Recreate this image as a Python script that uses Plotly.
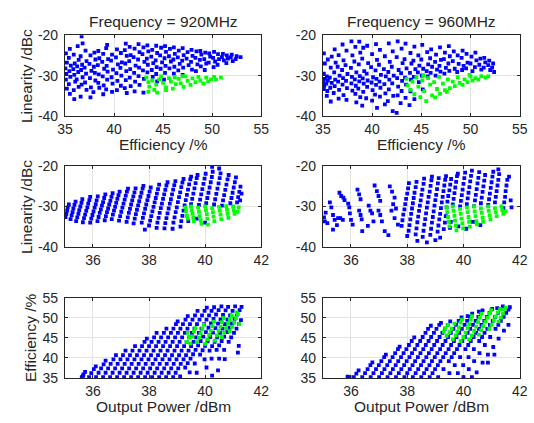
import plotly.graph_objects as go

W, H = 534, 423

# ---------------------------------------------------------------------------
# Measured points: (x, y) pairs per panel
# ---------------------------------------------------------------------------

# Linearity (dBc) versus efficiency (%), 920 MHz
lin_eff_920_blue = [
    (35.1,-24.5),(35.2,-26.8),(35.05,-28.2),(35.15,-29.6),(35.1,-31.0),(35.2,-33.2),
    (35.5,-23.4),(35.4,-25.6),(35.6,-27.5),(35.45,-28.9),(35.55,-30.3),(35.4,-32.1),(35.5,-34.5),
    (35.9,-24.8),(36.0,-27.0),(35.85,-28.4),(35.95,-29.8),(36.05,-31.5),(35.9,-33.6),(35.95,-35.8),
    (36.3,-22.7),(36.4,-26.1),(36.25,-27.7),(36.35,-29.1),(36.2,-30.9),(36.4,-32.8),
    (36.7,-20.3),(36.8,-22.0),(36.6,-25.2),(36.75,-27.3),(36.65,-28.6),(36.8,-30.4),(36.7,-32.2),(36.6,-35.2),
    (37.1,-23.8),(37.2,-26.4),(37.0,-28.0),(37.15,-29.5),(37.05,-31.7),(37.2,-33.5),
    (37.6,-25.0),(37.5,-27.1),(37.7,-28.8),(37.55,-30.6),(37.65,-32.9),(37.6,-35.4),
    (38.0,-24.3),(38.1,-26.0),(37.95,-27.8),(38.05,-29.3),(38.1,-31.2),(37.9,-34.1),
    (38.4,-23.9),(38.5,-25.7),(38.35,-27.4),(38.45,-29.7),(38.4,-31.8),(38.5,-33.0),
    (38.9,-24.6),(38.8,-26.6),(39.0,-28.3),(38.85,-30.2),(38.95,-32.4),(38.9,-34.6),
    (39.3,-22.4),(39.2,-23.2),(39.4,-25.9),(39.25,-27.6),(39.35,-29.0),(39.3,-31.0),(39.2,-33.4),
    (39.8,-24.8),(39.7,-26.3),(39.9,-28.5),(39.75,-30.4),(39.85,-32.0),(39.8,-34.0),
    (40.3,-23.5),(40.2,-25.5),(40.4,-27.2),(40.25,-29.4),(40.35,-31.3),(40.3,-33.6),
    (40.7,-24.4),(40.8,-26.7),(40.65,-28.1),(40.75,-30.0),(40.7,-32.5),
    (41.2,-22.1),(41.1,-23.7),(41.3,-25.1),(41.15,-27.0),(41.25,-28.9),(41.2,-31.1),(41.1,-33.1),(41.3,-34.3),
    (41.6,-22.9),(41.7,-24.9),(41.55,-26.4),(41.65,-28.4),(41.6,-30.5),(41.7,-32.6),
    (42.1,-23.3),(42.0,-25.4),(42.2,-27.5),(42.05,-29.3),(42.15,-31.5),(42.1,-33.9),
    (42.5,-22.2),(42.6,-24.2),(42.45,-26.0),(42.55,-28.0),(42.5,-30.1),(42.6,-32.3),
    (43.0,-23.0),(42.9,-24.7),(43.1,-26.6),(42.95,-28.7),(43.05,-30.8),(43.0,-34.2),
    (43.4,-22.5),(43.5,-24.0),(43.35,-25.8),(43.45,-27.3),(43.4,-29.2),
    (43.9,-23.6),(43.8,-25.3),(44.0,-26.9),(43.85,-28.6),(43.95,-30.3),
    (44.3,-22.6),(44.4,-24.4),(44.25,-26.2),(44.35,-27.9),(44.3,-29.6),(44.4,-31.4),
    (44.8,-23.1),(44.7,-25.0),(44.9,-26.7),(44.75,-28.3),
    (45.2,-22.7),(45.3,-24.1),(45.15,-25.7),(45.25,-27.6),(45.2,-29.3),(45.1,-31.0),
    (45.7,-23.4),(45.6,-25.2),(45.8,-26.5),(45.65,-28.2),
    (46.1,-23.0),(46.2,-24.6),(46.05,-26.0),(46.15,-27.8),(46.1,-29.5),
    (46.6,-23.8),(46.5,-25.5),(46.7,-27.1),(46.55,-28.7),
    (47.0,-23.2),(47.1,-24.9),(46.95,-26.3),(47.05,-28.0),(47.0,-29.8),
    (47.5,-24.2),(47.4,-25.8),(47.6,-27.4),
    (47.9,-23.6),(48.0,-25.1),(47.85,-26.6),(47.95,-28.5),
    (48.4,-24.0),(48.3,-25.6),(48.5,-27.2),(48.35,-28.9),
    (48.8,-23.9),(48.9,-24.8),(48.75,-26.1),(48.85,-27.7),
    (49.3,-24.3),(49.2,-25.9),(49.4,-27.0),(49.25,-28.6),
    (49.7,-24.5),(49.8,-25.3),(49.65,-26.8),
    (50.2,-24.1),(50.1,-25.6),(50.3,-26.5),(50.15,-27.9),
    (50.6,-24.7),(50.7,-25.9),(50.55,-27.3),
    (51.1,-24.6),(51.0,-25.4),(51.2,-26.2),
    (51.5,-25.0),(51.6,-25.8),(51.45,-26.9),
    (52.0,-24.8),(51.9,-25.5),(52.1,-26.4),
    (52.5,-25.2),(52.4,-25.9),
    (52.9,-25.4),
]
lin_eff_920_green = [
    (43.3,-30.5),(43.5,-31.6),(43.6,-32.7),(43.5,-34.0),(43.9,-31.2),(44.1,-33.5),
    (44.3,-32.2),(44.6,-30.9),(44.4,-34.2),(45.0,-31.8),(45.3,-32.9),(45.6,-30.6),
    (45.8,-31.5),(46.0,-33.2),(46.3,-32.1),(46.6,-30.8),(46.8,-31.9),(47.1,-32.8),
    (47.3,-30.2),(47.5,-31.3),(47.8,-32.3),(48.0,-30.7),(48.3,-31.6),(48.6,-30.3),
    (48.8,-31.2),(49.1,-32.0),(49.4,-30.5),(49.6,-31.4),(49.9,-30.9),(50.2,-30.3),
    (50.4,-31.0),(50.9,-30.5),(47.0,-30.1),(45.3,-33.6),(44.8,-30.2),(46.2,-30.4),
]

# Linearity (dBc) versus efficiency (%), 960 MHz
lin_eff_960_blue = [
    (35.1,-29.5),(35.2,-30.8),(35.05,-31.6),(35.15,-32.4),(35.1,-33.3),(35.2,-27.0),(35.1,-24.5),
    (35.4,-30.2),(35.5,-31.2),(35.35,-32.0),(35.45,-33.8),(35.4,-35.0),(35.5,-26.0),
    (35.8,-28.0),(35.7,-30.5),(35.9,-31.8),(35.75,-33.0),(35.8,-36.4),(35.9,-25.3),
    (36.2,-23.5),(36.3,-26.8),(36.15,-29.2),(36.25,-31.0),(36.2,-32.6),(36.1,-34.3),
    (36.6,-24.9),(36.5,-27.8),(36.7,-30.0),(36.55,-31.5),(36.65,-33.5),(36.6,-35.7),
    (37.0,-22.3),(37.1,-26.2),(36.95,-28.6),(37.05,-30.6),(37.0,-32.2),(37.1,-34.8),
    (37.4,-23.8),(37.3,-27.4),(37.5,-29.6),(37.35,-31.3),(37.45,-33.1),(37.4,-36.0),
    (37.9,-21.5),(38.0,-25.0),(37.85,-28.1),(37.95,-30.3),(37.9,-31.9),(38.0,-33.7),
    (38.3,-22.9),(38.2,-26.5),(38.4,-29.2),(38.25,-30.9),(38.35,-32.5),(38.3,-34.5),(38.4,-36.6),
    (38.7,-21.6),(38.8,-24.3),(38.65,-27.2),(38.75,-30.1),(38.7,-31.4),(38.6,-33.2),(38.8,-35.3),
    (39.1,-23.1),(39.0,-25.8),(39.2,-28.9),(39.05,-30.7),(39.15,-32.0),(39.1,-34.0),(39.0,-37.4),
    (39.5,-22.6),(39.6,-26.9),(39.45,-29.5),(39.55,-31.2),(39.5,-32.8),(39.4,-35.6),
    (40.0,-24.7),(39.9,-27.9),(40.1,-30.4),(39.95,-31.7),(40.05,-33.6),(40.0,-36.2),
    (40.4,-22.2),(40.5,-26.1),(40.35,-28.7),(40.45,-30.8),(40.4,-32.3),(40.3,-34.7),(40.5,-38.0),
    (40.8,-23.6),(40.7,-27.3),(40.9,-29.8),(40.75,-31.5),(40.85,-33.0),(40.8,-35.2),
    (41.3,-25.2),(41.2,-28.4),(41.4,-30.2),(41.25,-32.1),(41.35,-34.4),(41.3,-37.1),
    (41.7,-22.0),(41.8,-26.6),(41.65,-29.1),(41.75,-31.0),(41.7,-33.4),(41.6,-36.3),
    (42.1,-24.0),(42.0,-27.8),(42.2,-30.0),(42.05,-31.9),(42.15,-35.0),(42.1,-38.8),
    (42.6,-21.5),(42.5,-25.4),(42.7,-28.6),(42.55,-30.6),(42.65,-32.7),(42.6,-34.9),(42.5,-39.2),
    (43.0,-23.3),(43.1,-26.9),(42.95,-29.4),(43.05,-31.3),(43.0,-33.8),(42.9,-36.8),
    (43.4,-22.1),(43.3,-25.9),(43.5,-28.2),(43.35,-30.5),(43.45,-32.2),(43.4,-35.5),
    (43.9,-24.4),(44.0,-27.0),(43.85,-29.3),(43.95,-31.0),(43.9,-33.9),(43.8,-37.3),
    (44.3,-22.8),(44.2,-26.3),(44.4,-28.4),(44.25,-30.3),(44.3,-35.8),
    (44.7,-25.0),(44.8,-27.5),(44.65,-29.2),(44.75,-31.6),
    (45.1,-22.4),(45.0,-26.0),(45.2,-28.3),(45.05,-30.0),(45.15,-33.4),
    (45.6,-24.2),(45.7,-27.2),(45.55,-28.9),(45.65,-30.2),
    (46.0,-23.5),(45.9,-25.7),(46.1,-27.8),(45.95,-29.3),
    (46.5,-24.8),(46.4,-26.6),(46.6,-28.5),(46.45,-30.0),
    (46.9,-23.0),(47.0,-26.1),(46.85,-27.6),(46.95,-29.0),
    (47.4,-24.3),(47.3,-25.9),(47.5,-28.1),(47.35,-29.5),
    (47.8,-22.7),(47.9,-25.2),(47.75,-27.0),(47.85,-28.8),
    (48.3,-24.0),(48.2,-26.4),(48.4,-28.3),
    (48.7,-25.0),(48.8,-27.1),(48.65,-29.1),
    (49.2,-23.8),(49.1,-25.6),(49.3,-27.6),(49.15,-28.6),
    (49.6,-24.6),(49.7,-26.8),(49.55,-28.2),
    (50.1,-25.3),(50.0,-27.0),(50.2,-28.9),
    (50.5,-24.3),(50.6,-26.2),(50.45,-27.9),
    (51.0,-25.8),(50.9,-27.3),(51.1,-28.5),
    (51.4,-25.6),(51.5,-26.7),(51.35,-28.0),
    (51.9,-26.3),(51.8,-27.4),(52.0,-28.6),
    (52.3,-27.0),(52.2,-28.0),(52.4,-29.1),
]
lin_eff_960_green = [
    (43.5,-30.8),(43.6,-32.4),(43.9,-33.5),(44.1,-31.5),(44.3,-34.6),(44.5,-30.4),
    (44.7,-32.7),(44.9,-35.3),(45.1,-31.2),(45.3,-33.8),(45.5,-36.3),(45.7,-30.6),
    (45.9,-32.2),(46.1,-34.9),(46.3,-31.6),(46.6,-33.3),(46.8,-30.3),(46.9,-34.5),
    (47.2,-32.0),(47.4,-33.6),(47.7,-30.9),(47.9,-33.1),(48.2,-31.5),(48.4,-32.6),
    (48.7,-30.4),(48.9,-31.8),(49.2,-32.3),(49.4,-30.9),(49.7,-31.6),(50.0,-30.2),
    (50.2,-31.2),(50.5,-30.6),(50.8,-31.0),(51.1,-30.1),(51.5,-30.5),(51.8,-30.2),
    (46.4,-35.4),(47.6,-34.0),(45.2,-29.9),(49.9,-29.8),
]

# Linearity (dBc) versus output power (dBm), 920 MHz
lin_pout_920_blue = [
    (35.02,-32.6),(35.05,-31.8),(35.08,-31.0),(35.1,-30.2),(35.14,-29.5),
    (35.2,-33.1),(35.24,-32.2),(35.27,-31.4),(35.3,-30.5),(35.34,-29.6),(35.38,-28.8),
    (35.4,-33.6),(35.44,-32.7),(35.48,-31.8),(35.51,-30.9),(35.55,-30.0),(35.59,-29.1),(35.62,-28.2),
    (35.64,-33.9),(35.68,-32.9),(35.72,-32.0),(35.76,-31.1),(35.8,-30.2),(35.83,-29.3),(35.87,-28.4),(35.9,-27.6),
    (35.9,-34.0),(35.94,-33.0),(35.98,-32.1),(36.02,-31.2),(36.06,-30.3),(36.1,-29.4),(36.13,-28.5),(36.17,-27.5),
    (36.16,-33.6),(36.2,-32.6),(36.24,-31.6),(36.28,-30.7),(36.32,-29.8),(36.36,-28.9),(36.4,-27.9),(36.44,-27.0),
    (36.42,-33.4),(36.46,-32.4),(36.5,-31.4),(36.54,-30.5),(36.58,-29.5),(36.62,-28.6),(36.66,-27.6),(36.7,-26.7),
    (36.67,-33.1),(36.71,-32.0),(36.75,-31.0),(36.79,-30.1),(36.83,-29.1),(36.87,-28.1),(36.91,-27.2),(36.95,-26.3),
    (36.93,-33.5),(36.97,-32.4),(37.01,-31.3),(37.05,-30.3),(37.09,-29.3),(37.13,-28.3),(37.17,-27.3),(37.21,-26.3),(37.25,-25.6),
    (37.2,-33.8),(37.24,-32.7),(37.28,-31.6),(37.32,-30.6),(37.36,-29.5),(37.4,-28.5),(37.44,-27.5),(37.48,-26.5),(37.52,-25.5),
    (37.45,-34.2),(37.49,-33.0),(37.53,-31.9),(37.57,-30.8),(37.61,-29.7),(37.65,-28.7),(37.69,-27.6),(37.73,-26.6),(37.77,-25.6),(37.8,-24.9),
    (37.85,-35.7),(37.74,-34.0),(37.78,-32.8),(37.82,-31.7),(37.86,-30.6),(37.9,-29.5),(37.94,-28.4),(37.98,-27.4),(38.02,-26.3),(38.06,-25.3),
    (38.0,-34.7),(38.04,-33.5),(38.08,-32.4),(38.12,-31.2),(38.16,-30.1),(38.2,-29.0),(38.24,-27.9),(38.28,-26.8),(38.32,-25.7),(38.36,-24.6),
    (38.27,-35.3),(38.3,-34.0),(38.34,-32.8),(38.38,-31.6),(38.42,-30.4),(38.46,-29.3),(38.5,-28.1),(38.54,-27.0),(38.58,-25.9),(38.62,-24.8),(38.66,-24.0),
    (38.55,-35.4),(38.58,-34.1),(38.62,-32.9),(38.66,-31.7),(38.7,-30.5),(38.74,-29.3),(38.78,-28.2),(38.82,-27.0),(38.86,-25.8),(38.9,-24.7),(38.94,-23.7),
    (38.84,-35.5),(38.87,-34.0),(38.91,-32.7),(38.95,-31.4),(38.99,-30.2),(39.03,-28.9),(39.07,-27.7),(39.11,-26.5),(39.15,-25.2),(39.19,-24.1),(39.23,-23.2),
    (39.12,-35.0),(39.15,-33.6),(39.19,-32.3),(39.23,-31.0),(39.27,-29.7),(39.31,-28.4),(39.35,-27.1),(39.39,-25.8),(39.43,-24.5),(39.47,-23.3),(39.5,-22.6),
    (39.5,-29.4),(39.54,-28.1),(39.58,-26.8),(39.62,-25.5),(39.66,-24.2),(39.7,-23.0),(39.73,-22.2),(39.4,-33.6),
    (39.78,-29.6),(39.82,-28.3),(39.86,-27.0),(39.9,-25.7),(39.94,-24.4),(39.98,-23.1),(40.02,-21.9),(39.7,-33.0),
    (40.04,-29.2),(40.08,-27.9),(40.12,-26.6),(40.16,-25.3),(40.2,-24.0),(40.24,-22.7),(40.27,-21.4),(40.25,-20.2),(40.0,-34.0),
    (40.32,-29.5),(40.36,-28.2),(40.4,-26.9),(40.44,-25.6),(40.48,-24.3),(40.52,-23.0),(40.55,-21.8),(40.5,-20.6),
    (40.6,-29.8),(40.64,-28.5),(40.68,-27.2),(40.72,-25.9),(40.76,-24.6),(40.8,-23.3),(40.84,-22.2),
    (40.9,-29.2),(40.94,-27.9),(40.98,-26.6),(41.02,-25.3),(41.06,-24.0),(41.1,-22.8),
    (41.14,-29.0),(41.18,-27.7),(41.22,-26.4),(41.26,-25.1),(41.3,-26.8),(41.25,-28.5),
]
lin_pout_920_green = [
    (39.3,-30.2),(39.32,-31.2),(39.35,-32.3),(39.38,-33.0),
    (39.5,-30.0),(39.52,-30.9),(39.55,-31.8),(39.58,-32.8),(39.6,-33.6),
    (39.75,-30.3),(39.78,-31.3),(39.8,-32.4),(39.84,-33.4),(39.87,-34.3),
    (40.0,-30.0),(40.03,-30.9),(40.06,-31.9),(40.08,-33.0),(40.1,-34.5),
    (40.25,-30.4),(40.28,-31.4),(40.3,-32.5),(40.33,-33.6),
    (40.5,-30.1),(40.52,-31.0),(40.55,-32.0),(40.58,-33.1),
    (40.75,-29.9),(40.78,-30.8),(40.8,-31.8),(40.83,-32.8),
    (41.0,-30.0),(41.02,-30.9),(41.05,-31.8),
    (41.2,-30.2),(41.15,-31.3),
]

# Linearity (dBc) versus output power (dBm), 960 MHz
lin_pout_960_blue = [
    (35.04,-32.7),(35.07,-33.7),(35.16,-34.1),(35.3,-30.2),(35.36,-32.1),(35.42,-33.3),
    (35.54,-32.9),(35.62,-32.9),(35.71,-33.3),(35.59,-26.6),(35.65,-27.4),(35.73,-27.8),
    (35.77,-28.4),(35.36,-35.7),(35.1,-31.5),(35.25,-29.0),(35.5,-34.6),
    (35.94,-30.2),(35.96,-31.7),(36.0,-33.3),(36.06,-34.5),(35.9,-29.3),
    (36.23,-25.8),(36.29,-27.0),(36.34,-28.2),(36.29,-31.0),(36.34,-32.1),(36.38,-33.2),(36.4,-36.1),
    (36.63,-29.8),(36.69,-31.0),(36.75,-31.7),(36.8,-33.7),(36.6,-34.8),
    (36.84,-24.8),(36.92,-26.2),(36.98,-27.4),(37.04,-28.6),(36.98,-31.0),(37.04,-32.1),(37.1,-33.7),(37.2,-36.1),
    (37.38,-25.0),(37.46,-26.3),(37.55,-27.8),(37.5,-29.4),(37.44,-31.0),(37.55,-32.9),(37.67,-34.5),(37.33,-37.1),(37.6,-30.5),
    (37.8,-34.8),(37.83,-33.4),(37.86,-32.0),(37.9,-30.7),(37.93,-29.4),(37.96,-28.1),(38.0,-26.8),(38.03,-25.5),(38.06,-24.2),(38.0,-37.3),
    (38.05,-36.0),(38.08,-34.6),(38.11,-33.2),(38.14,-31.8),(38.17,-30.5),(38.2,-29.2),(38.23,-27.9),(38.26,-26.6),(38.3,-25.2),(38.33,-23.9),
    (38.36,-38.5),(38.3,-36.9),(38.33,-35.4),(38.36,-33.9),(38.39,-32.5),(38.42,-31.1),(38.45,-29.8),(38.48,-28.5),(38.51,-27.1),(38.54,-25.8),(38.58,-24.4),(38.6,-23.1),
    (38.7,-38.9),(38.55,-37.5),(38.58,-36.0),(38.61,-34.5),(38.64,-33.1),(38.67,-31.7),(38.7,-30.3),(38.73,-29.0),(38.76,-27.6),(38.8,-26.3),(38.83,-24.9),(38.86,-23.5),(38.88,-22.6),
    (38.82,-37.0),(38.85,-35.5),(38.88,-34.0),(38.91,-32.6),(38.94,-31.2),(38.97,-29.8),(39.0,-28.4),(39.03,-27.1),(39.06,-25.7),(39.09,-24.3),(39.12,-23.0),(39.0,-38.3),
    (39.17,-37.7),(39.08,-36.2),(39.11,-34.7),(39.14,-33.2),(39.17,-31.8),(39.2,-30.4),(39.23,-29.0),(39.26,-27.6),(39.29,-26.2),(39.32,-24.8),(39.35,-23.4),(39.38,-22.5),
    (39.3,-35.6),(39.34,-34.0),(39.37,-32.4),(39.4,-30.2),(39.43,-28.8),(39.46,-27.4),(39.5,-26.0),(39.53,-24.6),(39.56,-23.2),(39.52,-35.3),
    (39.62,-29.5),(39.65,-28.1),(39.68,-26.7),(39.71,-25.3),(39.74,-23.9),(39.77,-22.5),(39.8,-21.9),(39.55,-33.8),
    (39.88,-30.0),(39.91,-28.6),(39.94,-27.2),(39.97,-25.8),(40.0,-24.4),(40.03,-23.0),(40.06,-21.6),(39.82,-34.9),
    (40.12,-29.4),(40.15,-28.0),(40.18,-26.6),(40.21,-25.2),(40.24,-23.8),(40.27,-22.4),(40.3,-21.1),(40.1,-35.5),
    (40.38,-29.9),(40.41,-28.5),(40.44,-27.1),(40.47,-25.7),(40.5,-24.3),(40.53,-22.9),(40.56,-21.5),(40.34,-33.8),
    (40.62,-29.2),(40.65,-27.8),(40.68,-26.4),(40.71,-25.0),(40.74,-23.6),(40.77,-22.2),(40.6,-34.6),
    (40.88,-29.6),(40.91,-28.2),(40.94,-26.8),(40.97,-25.4),(41.0,-24.0),(41.03,-22.6),(41.06,-21.4),
    (41.12,-29.0),(41.15,-27.6),(41.18,-26.2),(41.21,-24.8),(41.24,-23.4),(41.27,-22.0),(41.24,-20.8),
    (41.42,-30.4),(41.45,-29.0),(41.48,-27.6),(41.5,-26.2),(41.53,-24.8),(41.56,-23.4),(41.62,-22.6),(41.68,-28.5),(41.71,-30.2),
]
lin_pout_960_green = [
    (39.4,-30.3),(39.42,-31.4),(39.45,-32.6),(39.48,-33.8),(39.5,-34.9),
    (39.62,-30.0),(39.65,-31.1),(39.68,-32.3),(39.7,-33.5),(39.73,-34.7),(39.75,-35.9),
    (39.88,-30.6),(39.9,-31.8),(39.93,-33.0),(39.96,-34.2),(39.99,-35.4),
    (40.12,-30.2),(40.15,-31.4),(40.18,-32.6),(40.2,-33.8),(40.23,-35.0),
    (40.38,-30.0),(40.4,-31.2),(40.43,-32.4),(40.46,-33.6),(40.48,-34.4),
    (40.62,-30.5),(40.65,-31.6),(40.68,-32.8),(40.7,-33.8),
    (40.88,-30.0),(40.9,-31.1),(40.93,-32.2),(40.96,-33.2),
    (41.12,-30.4),(41.15,-31.4),(41.18,-32.4),
    (41.35,-30.0),(41.38,-30.9),(41.42,-31.8),(41.5,-31.2),
]

# Efficiency (%) versus output power (dBm), 920 MHz
eff_pout_920_blue = [
    (35.6,35.2),(35.66,35.9),(35.72,36.5),(35.65,35.5),
    (35.86,35.2),(35.94,36.2),(36.03,37.2),(36.1,37.9),
    (36.11,35.2),(36.2,36.3),(36.29,37.4),(36.38,38.4),(36.45,39.3),
    (36.36,35.2),(36.45,36.3),(36.54,37.4),(36.63,38.5),(36.73,39.6),(36.82,40.7),
    (36.61,35.2),(36.7,36.3),(36.79,37.4),(36.88,38.5),(36.98,39.6),(37.07,40.7),(37.16,41.8),
    (36.86,35.2),(36.95,36.3),(37.04,37.4),(37.13,38.5),(37.23,39.6),(37.32,40.7),(37.41,41.8),(37.5,42.9),
    (37.11,35.2),(37.2,36.3),(37.29,37.4),(37.38,38.5),(37.48,39.6),(37.57,40.7),(37.66,41.8),(37.75,42.9),(37.84,44.0),(37.92,44.8),
    (37.36,35.2),(37.45,36.3),(37.54,37.4),(37.63,38.5),(37.73,39.6),(37.82,40.7),(37.91,41.8),(38.0,42.9),(38.09,44.0),(38.18,45.1),(38.27,46.2),
    (37.61,35.2),(37.7,36.3),(37.79,37.4),(37.88,38.5),(37.98,39.6),(38.07,40.7),(38.16,41.8),(38.25,42.9),(38.34,44.0),(38.43,45.1),(38.53,46.2),(38.62,47.3),
    (37.86,35.2),(37.95,36.3),(38.04,37.4),(38.13,38.5),(38.23,39.6),(38.32,40.7),(38.41,41.8),(38.5,42.9),(38.59,44.0),(38.68,45.1),(38.78,46.2),(38.87,47.3),(38.96,48.4),(39.02,49.1),
    (38.11,35.2),(38.2,36.3),(38.29,37.4),(38.38,38.5),(38.48,39.6),(38.57,40.7),(38.66,41.8),(38.75,42.9),(38.84,44.0),(38.93,45.1),(39.03,46.2),(39.12,47.3),(39.21,48.4),(39.3,49.5),(39.38,50.4),
    (38.36,35.2),(38.45,36.3),(38.54,37.4),(38.63,38.5),(38.73,39.6),(38.82,40.7),(38.91,41.8),(39.0,42.9),(39.09,44.0),(39.18,45.1),(39.28,46.2),(39.37,47.3),(39.46,48.4),(39.55,49.5),(39.64,50.6),(39.73,51.7),
    (38.61,35.2),(38.7,36.3),(38.79,37.4),(38.88,38.5),(38.98,39.6),(39.07,40.7),(39.16,41.8),(39.25,42.9),(39.34,44.0),(39.43,45.1),(39.53,46.2),(39.62,47.3),(39.71,48.4),(39.8,49.5),(39.89,50.6),(39.98,51.7),(40.06,52.5),
    (38.86,35.2),(38.95,36.3),(39.04,37.4),(39.13,38.5),(39.23,39.6),(39.32,40.7),(39.41,41.8),(39.5,42.9),(39.59,44.0),(39.68,45.1),(39.78,46.2),(39.87,47.3),(39.96,48.4),(40.05,49.5),(40.14,50.6),(40.23,51.7),(40.32,52.6),
    (39.11,35.4),(39.29,37.6),(39.38,38.7),(39.48,39.8),(39.57,40.9),(39.66,42.0),(39.75,43.1),(39.84,44.2),(39.93,45.3),(40.03,46.4),(40.12,47.5),(40.21,48.6),(40.3,49.7),(40.39,50.8),(40.48,51.9),(40.58,52.8),
    (39.45,36.4),(39.63,38.6),(39.82,40.8),(39.91,41.9),(40.0,43.0),(40.09,44.1),(40.18,45.2),(40.28,46.3),(40.37,47.4),(40.46,48.5),(40.55,49.6),(40.64,50.7),(40.73,51.8),(40.82,52.7),
    (39.7,36.3),(39.98,39.6),(40.16,41.8),(40.25,42.9),(40.34,44.0),(40.43,45.1),(40.53,46.2),(40.62,47.3),(40.71,48.4),(40.8,49.5),(40.89,50.6),(40.98,51.7),(41.07,52.8),
    (40.05,37.6),(40.23,39.8),(40.41,42.0),(40.5,43.1),(40.59,44.2),(40.68,45.3),(40.78,46.4),(40.87,47.5),(40.96,48.6),(41.05,49.7),(41.14,50.8),(41.23,51.9),(41.3,52.7),
    (40.46,36.9),(40.5,39.8),(40.68,42.0),(40.84,44.0),(40.93,45.1),(41.03,46.2),(41.12,47.3),(41.21,48.4),(41.28,49.4),
    (41.17,41.3),(41.2,43.0),(40.7,39.7),(40.25,35.6),
]
eff_pout_920_green = [
    (39.34,44.0),(39.43,45.1),(39.38,46.2),(39.47,43.6),(39.55,45.3),(39.6,46.6),(39.65,47.4),
    (39.7,43.9),(39.78,45.0),(39.84,46.1),(39.9,47.2),(39.95,48.2),
    (40.0,43.5),(40.08,44.6),(40.14,45.7),(40.2,46.8),(40.26,47.9),(40.32,49.0),
    (40.35,44.3),(40.42,45.6),(40.48,46.7),(40.55,47.8),(40.6,48.9),(40.67,49.9),
    (40.6,45.2),(40.68,46.3),(40.75,47.4),(40.82,48.5),(40.88,49.6),(40.95,50.6),
    (40.88,46.6),(40.96,47.7),(41.04,48.8),(41.1,49.9),(41.17,50.9),(41.22,48.4),(41.12,51.3),
]

# Efficiency (%) versus output power (dBm), 960 MHz
eff_pout_960_blue = [
    (35.88,35.3),(35.95,35.2),
    (36.1,35.2),(36.19,36.1),(36.27,36.9),
    (36.4,35.2),(36.5,36.2),(36.59,37.2),(36.69,38.2),(36.76,38.9),
    (36.7,35.2),(36.8,36.2),(36.89,37.2),(36.99,38.2),(37.08,39.2),(37.18,40.2),(37.24,40.8),
    (37.0,35.2),(37.1,36.2),(37.19,37.2),(37.29,38.2),(37.38,39.2),(37.48,40.2),(37.57,41.2),(37.67,42.2),(37.73,42.8),
    (37.3,35.2),(37.4,36.2),(37.49,37.2),(37.59,38.2),(37.68,39.2),(37.78,40.2),(37.87,41.2),(37.97,42.2),(38.06,43.2),(38.16,44.2),(38.25,45.1),
    (37.6,35.2),(37.7,36.2),(37.79,37.2),(37.89,38.2),(37.98,39.2),(38.08,40.2),(38.17,41.2),(38.27,42.2),(38.36,43.2),(38.46,44.2),(38.55,45.2),(38.65,46.2),(38.74,47.2),(38.84,48.0),
    (37.9,35.2),(38.0,36.2),(38.09,37.2),(38.19,38.2),(38.28,39.2),(38.38,40.2),(38.47,41.2),(38.57,42.2),(38.66,43.2),(38.76,44.2),(38.85,45.2),(38.95,46.2),(39.04,47.2),(39.14,48.2),(39.2,48.7),
    (38.2,35.2),(38.3,36.2),(38.39,37.2),(38.49,38.2),(38.58,39.2),(38.68,40.2),(38.77,41.2),(38.87,42.2),(38.96,43.2),(39.06,44.2),(39.15,45.2),(39.25,46.2),(39.34,47.2),(39.44,48.2),(39.53,49.1),
    (38.5,35.2),(38.6,36.2),(38.69,37.2),(38.79,38.2),(38.88,39.2),(38.98,40.2),(39.07,41.2),(39.17,42.2),(39.26,43.2),(39.36,44.2),(39.45,45.2),(39.55,46.2),(39.64,47.2),(39.74,48.2),(39.83,49.2),(39.93,50.1),
    (38.8,35.2),(38.9,36.2),(38.99,37.2),(39.09,38.2),(39.18,39.2),(39.28,40.2),(39.37,41.2),(39.47,42.2),(39.56,43.2),(39.66,44.2),(39.75,45.2),(39.85,46.2),(39.94,47.2),(40.04,48.2),(40.13,49.2),(40.23,50.2),(40.31,51.0),
    (39.1,35.2),(39.29,37.2),(39.48,39.2),(39.58,40.2),(39.67,41.2),(39.77,42.2),(39.86,43.2),(39.96,44.2),(40.05,45.2),(40.15,46.2),(40.24,47.2),(40.34,48.2),(40.43,49.2),(40.53,50.2),(40.62,51.2),(40.68,51.8),
    (39.5,36.2),(39.69,38.2),(39.88,40.2),(40.07,42.2),(40.17,43.2),(40.26,44.2),(40.36,45.2),(40.45,46.2),(40.55,47.2),(40.64,48.2),(40.74,49.2),(40.83,50.2),(40.93,51.2),(41.02,52.2),
    (39.8,36.2),(39.99,38.2),(40.18,40.2),(40.37,42.2),(40.56,44.2),(40.66,45.2),(40.75,46.2),(40.85,47.2),(40.94,48.2),(41.04,49.2),(41.13,50.2),(41.23,51.2),(41.32,52.2),(41.4,52.8),
    (40.0,35.2),(40.19,37.2),(40.38,39.2),(40.57,41.2),(40.76,43.2),(40.95,45.2),(41.14,47.2),(41.24,48.2),(41.33,49.2),(41.43,50.2),(41.52,51.2),(41.6,52.0),
    (40.3,35.2),(40.47,36.4),(40.68,38.8),(40.87,40.8),(41.06,42.7),(41.25,44.8),(41.44,46.8),(41.6,48.2),
    (41.65,52.6),(41.2,52.4),(40.55,51.5),(40.15,50.4),(41.1,40.8),(40.87,38.8),
]
eff_pout_960_green = [
    (39.3,46.5),(39.35,47.4),(39.4,45.5),(39.45,48.2),(39.5,46.4),(39.58,47.3),(39.62,44.6),
    (39.68,48.5),(39.72,45.6),(39.78,46.6),(39.84,47.6),(39.9,48.8),(39.95,49.5),
    (39.9,44.2),(40.0,45.2),(40.08,46.3),(40.15,47.4),(40.2,48.4),(40.26,49.5),(40.3,50.4),
    (40.2,44.6),(40.3,45.6),(40.38,46.7),(40.45,47.8),(40.52,48.9),(40.58,50.0),(40.64,51.0),
    (40.55,45.8),(40.63,46.9),(40.7,47.9),(40.78,49.0),(40.85,50.0),(40.92,51.1),(40.98,51.9),
    (40.92,47.2),(41.0,48.2),(41.08,49.3),(41.15,50.3),(41.22,51.3),(41.3,52.1),
    (41.25,49.0),(41.33,50.0),(41.4,51.0),(41.45,52.0),(41.5,52.5),
]

frequencies = ["920MHz", "960MHz"]
eff_ticks = [35, 40, 45, 50, 55]
lin_ticks = [-40, -30, -20]
pout_ticks = [36, 38, 40, 42]

# ---------------------------------------------------------------------------
# Layout geometry (pixels)
# ---------------------------------------------------------------------------
col_px = [(58.7, 261.0), (324.6, 527.5)]
row_px = [(28.3, 112.3), (164.3, 248.3), (301.0, 384.5)]

FONT = "Liberation Sans, Arial, Helvetica, sans-serif"
TXT = "#262626"
BLUE = "#0000ff"
GREEN = "#00ff00"


def xfrac(px):
    return px / W


def yfrac(py):
    return 1 - py / H


panels = [
    # (row, col, blue, green, x range, x ticks, y range, y ticks)
    (0, 0, lin_eff_920_blue, lin_eff_920_green, [35, 55], eff_ticks, [-40, -20], lin_ticks),
    (0, 1, lin_eff_960_blue, lin_eff_960_green, [35, 55], eff_ticks, [-40, -20], lin_ticks),
    (1, 0, lin_pout_920_blue, lin_pout_920_green, [35, 42], pout_ticks, [-40, -20], lin_ticks),
    (1, 1, lin_pout_960_blue, lin_pout_960_green, [35, 42], pout_ticks, [-40, -20], lin_ticks),
    (2, 0, eff_pout_920_blue, eff_pout_920_green, [35, 42], pout_ticks, [35, 55], eff_ticks),
    (2, 1, eff_pout_960_blue, eff_pout_960_green, [35, 42], pout_ticks, [35, 55], eff_ticks),
]

fig = go.Figure()
layout_axes = {}

for i, (r, c, blue, green, xr, xt, yr, yt) in enumerate(panels):
    n = i + 1
    xa = "x" if n == 1 else f"x{n}"
    ya = "y" if n == 1 else f"y{n}"
    for pts, colour in ((blue, BLUE), (green, GREEN)):
        fig.add_trace(go.Scatter(
            x=[p[0] for p in pts], y=[p[1] for p in pts],
            mode="markers", xaxis=xa, yaxis=ya,
            marker=dict(symbol="square", size=3.8, color=colour, line=dict(width=0)),
            hoverinfo="skip", showlegend=False,
        ))
    common = dict(
        showgrid=True, gridcolor="#e3e3e3", gridwidth=1, zeroline=False,
        showline=True, linecolor=TXT, linewidth=1, mirror="ticks",
        ticks="inside", ticklen=3, tickwidth=1, tickcolor=TXT,
        tickfont=dict(family=FONT, size=14, color=TXT), fixedrange=True,
    )
    x0, x1 = col_px[c]
    y0, y1 = row_px[r]
    layout_axes["xaxis" if n == 1 else f"xaxis{n}"] = dict(
        common, domain=[xfrac(x0), xfrac(x1)], range=xr,
        tickvals=xt, ticktext=[str(v) for v in xt],
        anchor=ya, ticklabelstandoff=0,
    )
    layout_axes["yaxis" if n == 1 else f"yaxis{n}"] = dict(
        common, domain=[yfrac(y1), yfrac(y0)], range=yr,
        tickvals=yt, ticktext=[str(v) for v in yt],
        anchor=xa, ticklabelstandoff=3,
    )

annotations = []


def label(text, px, py, size=15.5, angle=0):
    annotations.append(dict(
        text=text, x=xfrac(px), y=yfrac(py), xref="paper", yref="paper",
        xanchor="center", yanchor="middle", showarrow=False, textangle=angle,
        font=dict(family=FONT, size=size, color=TXT),
    ))


for c, f in enumerate(frequencies):
    cx = sum(col_px[c]) / 2
    label(f"Frequency = {f}", cx, 14)
    label("Efficiency /%", cx, 142)
    label("Output Power /dBm", cx, 414)

label("Linearity /dBc", 19, sum(row_px[0]) / 2, angle=-90)
label("Linearity /dBc", 19, sum(row_px[1]) / 2, angle=-90)
label("Efficiency /%", 24, sum(row_px[2]) / 2, angle=-90)

fig.update_layout(
    width=W, height=H, margin=dict(l=0, r=0, t=0, b=0),
    paper_bgcolor="white", plot_bgcolor="white",
    showlegend=False, annotations=annotations, **layout_axes,
)

fig.write_html("out.html", config={"displayModeBar": False})
